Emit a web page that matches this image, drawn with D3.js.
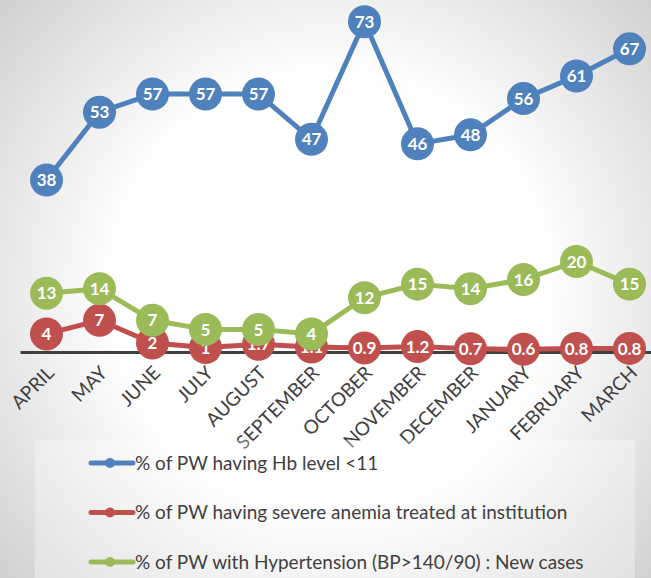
<!DOCTYPE html>
<html>
<head>
<meta charset="utf-8">
<script src="https://cdn.jsdelivr.net/npm/d3@7"></script>
<style>
    html, body { margin: 0; padding: 0; }
    svg { display: block; }
</style>
</head>
<body>
<svg width="651" height="578"></svg>
<script>
const months = ['APRIL', 'MAY', 'JUNE', 'JULY', 'AUGUST', 'SEPTEMBER', 'OCTOBER',
    'NOVEMBER', 'DECEMBER', 'JANUARY', 'FEBRUARY', 'MARCH'];
const hbLow = [38, 53, 57, 57, 57, 47, 73, 46, 48, 56, 61, 67];
const severeAnemia = [4, 7, 2, 1, 1.7, 1.1, 0.9, 1.2, 0.7, 0.6, 0.8, 0.8];
const hypertension = [13, 14, 7, 5, 5, 4, 12, 15, 14, 16, 20, 15];
const seriesNames = [
    '% of PW having Hb level <11',
    '% of PW having severe anemia treated at institution',
    '% of PW with Hypertension (BP>140/90) : New cases',
];
const seriesColors = ['#4F81BD', '#C0504D', '#9BBB59'];

const series = [hbLow, severeAnemia, hypertension].map((values, i) => ({
    name: seriesNames[i],
    color: seriesColors[i],
    values: values.map((v, j) => ({ month: months[j], value: v })),
}));

const svg = d3.select('svg');
const width = +svg.attr('width');
const height = +svg.attr('height');

// *** background ***
const defs = svg.append('defs');
const bg = defs.append('radialGradient')
    .attr('id', 'bg')
    .attr('gradientUnits', 'userSpaceOnUse')
    .attr('cx', 330).attr('cy', 290).attr('r', 430);
bg.append('stop').attr('offset', 0.5).attr('stop-color', '#ffffff');
bg.append('stop').attr('offset', 1).attr('stop-color', '#d2d2d2');
svg.append('rect')
    .attr('width', width).attr('height', height)
    .attr('fill', 'url(#bg)');

// *** scales ***
const x = d3.scaleBand()
    .domain(months)
    .range([20, 656]);
const y = d3.scaleLinear()
    .domain([0, 80])
    .range([352, -10]);
const cx = d => x(d.month) + x.bandwidth() / 2;

// *** axis ***
const axis = svg.append('g')
    .attr('transform', `translate(0,${y(0)})`)
    .call(d3.axisBottom(x).tickSize(0).tickPadding(0));
axis.select('.domain')
    .attr('stroke', '#404040')
    .attr('stroke-width', 3);
axis.selectAll('.tick text')
    .attr('fill', '#404040')
    .style('font-family', 'Lato, "Open Sans", sans-serif')
    .style('font-size', '19px')
    .attr('text-anchor', 'end')
    .attr('dy', 0)
    .attr('y', 0)
    .attr('transform', 'translate(9,22) rotate(-45)');

// *** series ***
const line = d3.line()
    .x(cx)
    .y(d => y(d.value));

series.forEach(s => {
    const g = svg.append('g');
    g.append('path')
        .datum(s.values)
        .attr('d', line)
        .attr('fill', 'none')
        .attr('stroke', s.color)
        .attr('stroke-width', 5)
        .attr('stroke-linejoin', 'round');
    const pts = g.selectAll('.pt')
        .data(s.values)
        .enter()
        .append('g')
        .attr('class', 'pt')
        .attr('transform', d => `translate(${cx(d)},${y(d.value)})`);
    pts.append('circle')
        .attr('r', 16.5)
        .attr('fill', s.color);
    pts.append('text')
        .attr('text-anchor', 'middle')
        .attr('dy', '0.36em')
        .attr('fill', '#ffffff')
        .style('font-family', 'Lato, "Open Sans", sans-serif')
        .style('font-weight', 'bold')
        .style('font-size', '17px')
        .text(d => d.value);
});

// *** legend ***
const legend = svg.append('g');
legend.append('rect')
    .attr('x', 35).attr('y', 440)
    .attr('width', 600).attr('height', 150)
    .attr('fill', '#ffffff')
    .attr('fill-opacity', 0.3);
const rows = legend.selectAll('.row')
    .data(series)
    .enter()
    .append('g')
    .attr('class', 'row')
    .attr('transform', (d, i) => `translate(0,${463 + i * 49.5})`);
rows.append('line')
    .attr('x1', 91).attr('x2', 133)
    .attr('stroke', d => d.color)
    .attr('stroke-width', 5)
    .attr('stroke-linecap', 'round');
rows.append('circle')
    .attr('cx', 110)
    .attr('r', 5)
    .attr('fill', d => d.color);
rows.append('text')
    .attr('x', 135)
    .attr('dy', '0.35em')
    .attr('fill', '#404040')
    .style('font-family', 'Lato, "Open Sans", sans-serif')
    .style('font-size', '19px')
    .text(d => d.name);
</script>
</body>
</html>
